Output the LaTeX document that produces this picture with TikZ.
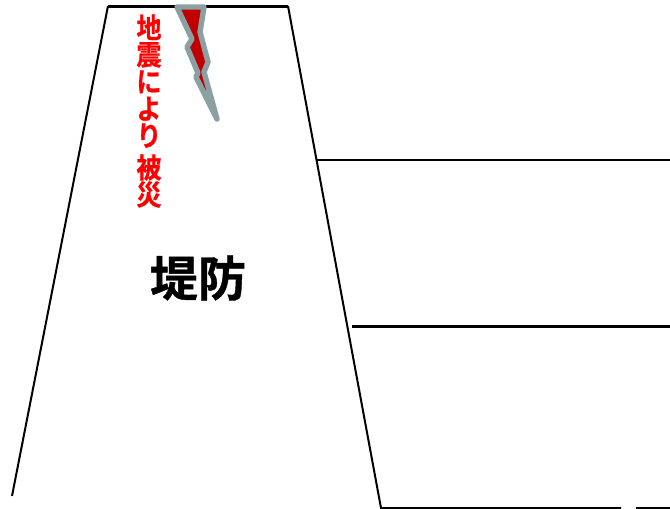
\documentclass[tikz,border=0pt]{standalone}
\usepackage{fontspec}
\newfontfamily\cjk[FakeBold=0.8]{Noto Sans CJK JP Bold}
\definecolor{crackgray}{HTML}{8AA0A2}
\definecolor{crackred}{HTML}{C00000}
\tikzset{
  line/.style={draw=black,line width=2pt},
  thick line/.style={draw=black,line width=3pt},
  crack/.style={draw=crackgray,fill=crackred,line width=5.4pt,line join=round},
  title/.style={font=\cjk\fontsize{48}{48}\selectfont,inner sep=0pt,text=black},
  vert/.style={font=\cjk\fontsize{25}{24.1}\selectfont,inner sep=0pt,text=red,align=center,yscale=1.12,transform shape}
}
\begin{document}
\begin{tikzpicture}[x=1pt,y=-1pt]
\useasboundingbox (0,0) rectangle (670,509);
\fill[white] (0,0) rectangle (670,509);
\coordinate (tl) at (108,6);
\coordinate (tr) at (288,6);
\coordinate (bl) at (12,496);
\coordinate (br) at (381,508);
\coordinate (m1) at (317,160);
\coordinate (m1e) at (670,160);
\coordinate (m2) at (352,326);
\coordinate (m2e) at (670,326);
\coordinate (b1) at (621,508);
\coordinate (b2) at (636,508);
\coordinate (b3) at (670,508);
\draw[thick line] (tl) -- (tr);
\draw[line] (tl) -- (bl);
\draw[line] (tr) -- (br) -- (b1);
\draw[line] (b2) -- (b3);
\draw[line] (m1) -- (m1e);
\draw[thick line] (m2) -- (m2e);
\path[crack] (177,7) -- (204,7) -- (200,32) -- (208,62) -- (204,72) -- (217,119) -- (196,77) -- (198,73) -- (187,47) -- (192,39) -- cycle;
\node[title] (dike) at (198,278) {堤防};
\node[vert] (quake) at (149,111) {地\\震\\に\\よ\\り\\[4.5pt]被\\災};
\end{tikzpicture}
\end{document}
